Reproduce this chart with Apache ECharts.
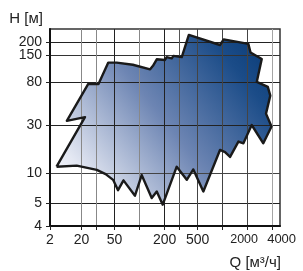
<!DOCTYPE html>
<html>
<head>
<meta charset="utf-8">
<script src="https://cdn.jsdelivr.net/npm/echarts@6/dist/echarts.min.js"></script>
<style>
  html, body { margin: 0; padding: 0; background: #fff; }
  #chart { width: 303px; height: 271px; }
</style>
</head>
<body>
<div id="chart"></div>
<script>
  // outline of the working range, read clockwise from the left corner
  const flowQ = [10, 22, 13.3, 24, 32, 42, 53, 83, 134, 145, 161, 202, 212, 244, 255, 322, 392,
    930, 1030, 2040, 2170, 2960, 2580, 3500, 3750, 3330, 3880, 3090, 2240, 1780, 1550, 1230, 1070,
    930, 586, 444, 370, 280, 190, 161, 140, 106, 88, 64, 55, 48, 39, 30.5, 17.5];
  const headH = [11.5, 36, 33, 77, 77, 126, 126, 120, 108, 117, 136, 134, 143, 139, 147, 143, 238,
    189, 215, 194, 159, 137, 81, 72, 59, 39, 29, 19.7, 30, 19.7, 20.5, 14.4, 16.1,
    16.9, 6.5, 10.8, 8.5, 11.5, 4.8, 6.5, 5.6, 9.5, 5.9, 8.4, 6.7, 8.5, 9.7, 10.7, 11.8];

  // ticks; the first one of each axis sits on the broken start of the axis
  const qTicks = [2, 20, 30, 50, 100, 200, 300, 500, 1000, 2000, 4000];
  const qLabels = [2, 20, 50, 200, 500, 2000, 4000];
  const hTicks = [4, 5, 10, 30, 80, 150, 200];
  const hLabels = [4, 5, 10, 30, 80, 150];
  const hLabelsTop = [200]; // on its own axis, else echarts hides 150 (too close)

  const Q_START = Math.log10(8.34), Q_END = Math.log10(4910);
  const H_START = Math.log10(2.94), H_END = Math.log10(273);
  const qPos = q => q <= 2 ? Q_START : Math.log10(q);
  const hPos = h => h <= 4 ? H_START : Math.log10(h);

  const qGridColors = ['#222', '#888', '#888', '#222', '#888', '#222', '#555', '#444', '#444', '#444', '#a5a5a5'];
  const hGridColors = ['#222', '#222', '#444', '#222', '#222', '#333', '#222'];

  const outline = flowQ.map((q, i) => [Math.log10(q), Math.log10(headH[i])]);
  const closed = outline.concat([outline[0]]);

  const fillGrad = new echarts.graphic.LinearGradient(0, 1, 1, 0, [
    {offset: 0, color: '#ffffff'},
    {offset: 0.15, color: '#e3e7f2'},
    {offset: 0.5, color: '#6d85b3'},
    {offset: 0.82, color: '#1b4c88'},
    {offset: 1, color: '#063874'}
  ]);

  const font = 'Liberation Sans, Arial, sans-serif';
  const findLabel = (list, pos, v) => {
    const hit = list.find(t => Math.abs(pos(t) - v) < 1e-6);
    return hit === undefined ? '' : String(hit);
  };
  const yLabelStyle = {
    hideOverlap: false,
    showMinLabel: true,
    showMaxLabel: true,
    margin: 8,
    color: '#222', fontSize: 14, fontFamily: font
  };

  let myChart = echarts.init(document.getElementById('chart'));
  myChart.setOption({
    animation: false,
    grid: {
      left: 50, right: 23, top: 29, bottom: 45,
      show: true, borderColor: '#333', borderWidth: 1.5,
      outerBoundsMode: 'none'
    },
    xAxis: {
      type: 'value',
      min: Q_START, max: Q_END,
      name: 'Q [м³/ч]',
      nameLocation: 'end',
      nameGap: 1,
      nameMoveOverlap: false,
      nameTextStyle: {
        color: '#222', fontSize: 15, fontFamily: font,
        align: 'right', verticalAlign: 'top', padding: [29, 0, 0, 0]
      },
      axisLine: {show: true, lineStyle: {color: '#111', width: 2}},
      axisTick: {show: true, length: 4, customValues: qTicks.map(qPos), lineStyle: {color: '#222', width: 1}},
      axisLabel: {
        customValues: qLabels.map(qPos),
        hideOverlap: false,
        showMinLabel: true,
        showMaxLabel: true,
        margin: 7,
        color: '#222', fontSize: 14, fontFamily: font,
        formatter: v => {
          const s = findLabel(qLabels, qPos, v);
          if (s === '2000') return '{a|2000}';
          if (s === '4000') return '{b|4000}';
          return s;
        },
        rich: {
          a: {fontSize: 12.5, fontFamily: font, color: '#222', padding: [0, 7, 0, 0]},
          b: {fontSize: 13, fontFamily: font, color: '#222', padding: [0, 0, 0, 18]}
        }
      },
      splitLine: {show: true, lineStyle: {color: qGridColors, width: 1}}
    },
    yAxis: [
      {
        type: 'value',
        min: H_START, max: H_END,
        name: 'H [м]',
        nameLocation: 'end',
        nameGap: 3,
        nameMoveOverlap: false,
        nameTextStyle: {color: '#222', fontSize: 15, fontFamily: font, align: 'right', padding: [0, 7, 0, 0]},
        axisLine: {show: true, lineStyle: {color: '#111', width: 2}},
        axisTick: {show: true, length: 4, customValues: hTicks.map(hPos), lineStyle: {color: '#222', width: 1}},
        axisLabel: Object.assign({
          customValues: hLabels.map(hPos),
          formatter: v => findLabel(hLabels, hPos, v)
        }, yLabelStyle),
        splitLine: {show: true, lineStyle: {color: hGridColors, width: 1}}
      },
      {
        type: 'value',
        position: 'left',
        min: H_START, max: H_END,
        axisLine: {show: false},
        axisTick: {show: false},
        splitLine: {show: false},
        axisLabel: Object.assign({
          customValues: hLabelsTop.map(hPos),
          formatter: v => findLabel(hLabelsTop, hPos, v)
        }, yLabelStyle)
      }
    ],
    series: [
      {
        type: 'custom',
        z: -1,
        silent: true,
        data: [outline[0]],
        renderItem: (params, api) => ({
          type: 'polygon',
          shape: {points: outline.map(p => api.coord(p))},
          style: {fill: fillGrad, stroke: null}
        })
      },
      {
        type: 'line',
        z: 3,
        silent: true,
        symbol: 'none',
        data: closed,
        lineStyle: {color: '#1a1a1a', width: 2.4, join: 'round'}
      }
    ]
  });
  window.addEventListener('resize', myChart.resize);
</script>
</body>
</html>
